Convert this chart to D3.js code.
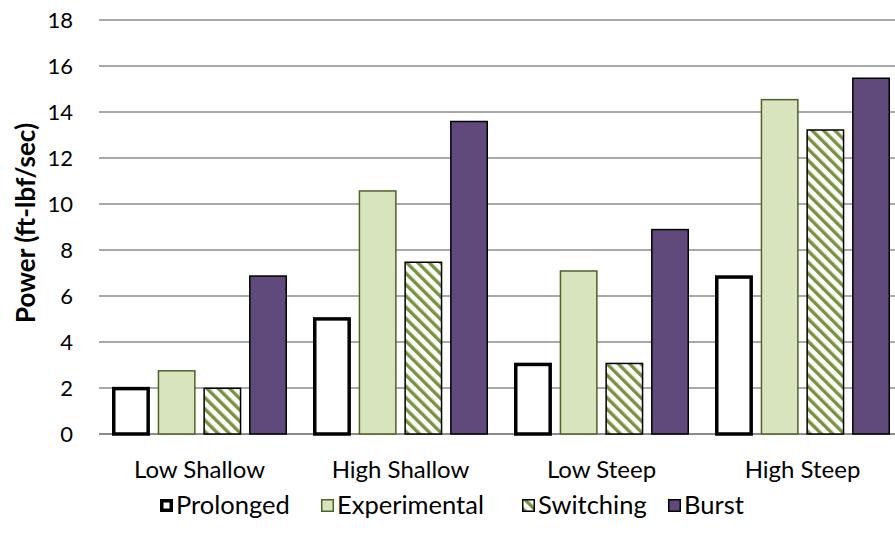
<!DOCTYPE html>
<html>
<head>
<meta charset="utf-8">
<script src="https://d3js.org/d3.v7.min.js"></script>
<style>
body { margin: 0; background: #fff; }
svg { display: block; font-family: Lato, "Open Sans", sans-serif; }
</style>
</head>
<body>
<svg id="chart" width="895" height="540"></svg>
<script>
// data
var categories = ["Low Shallow", "High Shallow", "Low Steep", "High Steep"];
var series = ["Prolonged", "Experimental", "Switching", "Burst"];
var prolonged = [2.05, 5.08, 3.1, 6.9];
var experimental = [2.78, 10.6, 7.12, 14.57];
var switching = [2.02, 7.5, 3.1, 13.25];
var burst = [6.9, 13.62, 8.92, 15.5];
var yTicks = [0, 2, 4, 6, 8, 10, 12, 14, 16, 18];

var values = { Prolonged: prolonged, Experimental: experimental, Switching: switching, Burst: burst };

var svg = d3.select("#chart");

// pattern for switching bars (downward diagonal)
var defs = svg.append("defs");
var pat = defs.append("pattern")
    .attr("id", "hatch")
    .attr("patternUnits", "userSpaceOnUse")
    .attr("width", 8).attr("height", 8)
    .attr("patternTransform", "rotate(-45)");
pat.append("rect").attr("width", 8).attr("height", 8).attr("fill", "#fff");
pat.append("rect").attr("x", 0).attr("y", 0).attr("width", 3.4).attr("height", 8).attr("fill", "#77933C");

//scales
var x0 = d3.scaleBand().domain(categories).range([99, 903]);
var x1 = d3.scaleBand().domain(series).range([13, 188]).paddingInner(0.17);
var y = d3.scaleLinear().domain([0, 18]).range([434, 20]);

//gridlines
svg.append("g").selectAll("line")
    .data(yTicks)
    .enter().append("line")
    .attr("x1", 99).attr("x2", 903)
    .attr("y1", function(d) { return y(d); })
    .attr("y2", function(d) { return y(d); })
    .attr("stroke", "#8c8c8c")
    .attr("stroke-width", function(d) { return d === 0 ? 2 : 1.5; });

//y axis labels
svg.append("g").selectAll("text")
    .data(yTicks)
    .enter().append("text")
    .attr("x", 73)
    .attr("y", function(d) { return y(d); })
    .attr("dy", "0.36em")
    .attr("text-anchor", "end")
    .style("font-size", "22px")
    .attr("fill", "#000")
    .text(function(d) { return d; });

svg.append("text")
    .attr("transform", "translate(35," + (y(9) - 4) + ") rotate(-90)")
    .attr("text-anchor", "middle")
    .style("font-size", "26px")
    .style("font-weight", "bold")
    .text("Power (ft-lbf/sec)");

var styles = {
    Prolonged: { fill: "#fff", stroke: "#000", sw: 3.5 },
    Experimental: { fill: "#D7E4BD", stroke: "#4F6228", sw: 1.5 },
    Switching: { fill: "url(#hatch)", stroke: "#000", sw: 1.5 },
    Burst: { fill: "#604A7B", stroke: "#000", sw: 1.5 }
};

//bars
var groups = svg.append("g").selectAll("g")
    .data(categories)
    .enter().append("g")
    .attr("transform", function(d) { return "translate(" + x0(d) + ",0)"; });

groups.selectAll("rect")
    .data(function(c, i) { return series.map(function(s) { return { s: s, v: values[s][i] }; }); })
    .enter().append("rect")
    .attr("x", function(d) { return x1(d.s) + styles[d.s].sw / 2; })
    .attr("width", function(d) { return x1.bandwidth() - styles[d.s].sw; })
    .attr("y", function(d) { return y(d.v) + styles[d.s].sw / 2; })
    .attr("height", function(d) { return y(0) - y(d.v) - styles[d.s].sw / 2; })
    .attr("fill", function(d) { return styles[d.s].fill; })
    .attr("stroke", function(d) { return styles[d.s].stroke; })
    .attr("stroke-width", function(d) { return styles[d.s].sw; });

//category labels
svg.append("g").selectAll("text")
    .data(categories)
    .enter().append("text")
    .attr("x", function(d) { return x0(d) + x0.bandwidth() / 2; })
    .attr("y", 478)
    .attr("text-anchor", "middle")
    .style("font-size", "24px")
    .text(function(d) { return d; });

//legend
var legendX = [160, 321, 522, 668];
var leg = svg.append("g").selectAll("g")
    .data(series)
    .enter().append("g")
    .attr("transform", function(d, i) { return "translate(" + legendX[i] + ",499)"; });
leg.append("rect")
    .attr("x", function(d) { return styles[d].sw / 2; })
    .attr("y", function(d) { return styles[d].sw / 2; })
    .attr("width", function(d) { return 13 - styles[d].sw; })
    .attr("height", function(d) { return 13 - styles[d].sw; })
    .attr("fill", function(d) { return styles[d].fill; })
    .attr("stroke", function(d) { return styles[d].stroke; })
    .attr("stroke-width", function(d) { return styles[d].sw; });
leg.append("text")
    .attr("x", 16)
    .attr("y", 15)
    .style("font-size", "25.5px")
    .text(function(d) { return d; });
</script>
</body>
</html>
